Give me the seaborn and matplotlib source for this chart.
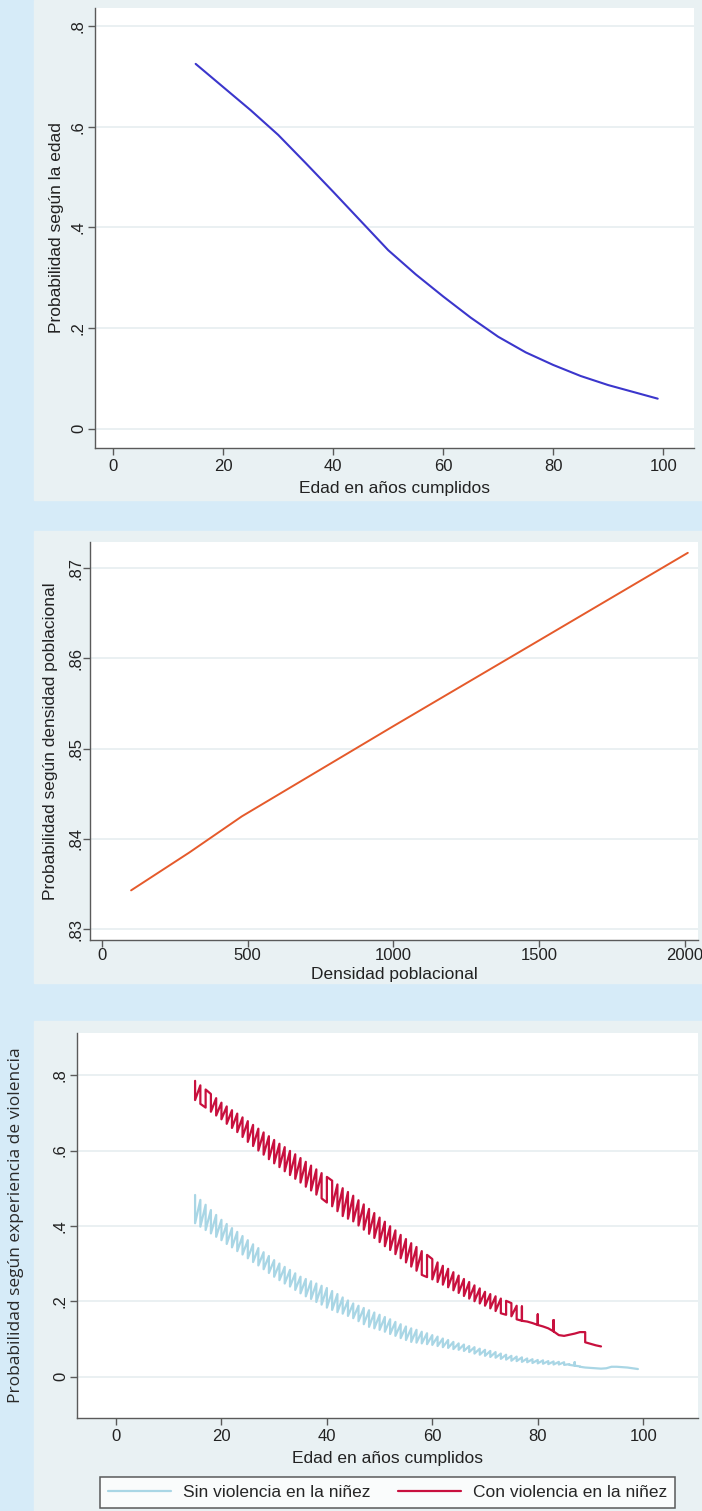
import numpy as np
import pandas as pd
import seaborn as sns
import matplotlib.pyplot as plt
from matplotlib.patches import Rectangle

# --- panel 1: probabilidad segun la edad ---
edad = [15, 20, 25, 30, 35, 40, 45, 50, 55, 60, 65, 70, 75, 80, 85, 90, 95, 99]
prob_edad = [0.725, 0.679, 0.633, 0.584, 0.528, 0.471, 0.413, 0.355, 0.307,
             0.263, 0.221, 0.183, 0.152, 0.127, 0.105, 0.087, 0.072, 0.060]

# --- panel 2: probabilidad segun densidad poblacional ---
densidad = [100, 300, 480, 1000, 1500, 2010]
prob_densidad = [0.8343, 0.8385, 0.8425, 0.8525, 0.8620, 0.8717]

# --- panel 3: probabilidad segun experiencia de violencia ---
# each age has a high and a low value (two groups of observations)
edad_con = list(range(15, 93))
con_alto = [0.785, 0.773, 0.762, 0.750, 0.739, 0.727, 0.717, 0.707, 0.698, 0.688,
            0.678, 0.668, 0.658, 0.648, 0.638, 0.628, 0.618, 0.609, 0.599, 0.590,
            0.580, 0.570, 0.560, 0.550, 0.540, 0.530, 0.520, 0.510, 0.500, 0.490,
            0.480, 0.468, 0.457, 0.445, 0.434, 0.422, 0.411, 0.399, 0.388, 0.376,
            0.365, 0.354, 0.344, 0.333, 0.323, 0.312, 0.303, 0.294, 0.286, 0.277,
            0.268, 0.259, 0.251, 0.242, 0.234, 0.225, 0.219, 0.213, 0.207, 0.201,
            0.195, 0.188, 0.186, 0.146, 0.142, 0.165, 0.133, 0.128, 0.150, 0.110,
            0.108, 0.111, 0.114, 0.118, 0.118, 0.087, 0.083, 0.080]
con_bajo = [0.734, 0.724, 0.714, 0.703, 0.693, 0.683, 0.671, 0.660, 0.649, 0.636,
            0.623, 0.612, 0.600, 0.589, 0.577, 0.566, 0.556, 0.545, 0.535, 0.525,
            0.515, 0.504, 0.494, 0.483, 0.473, 0.462, 0.452, 0.439, 0.426, 0.419,
            0.412, 0.401, 0.390, 0.379, 0.368, 0.357, 0.346, 0.336, 0.325, 0.314,
            0.303, 0.292, 0.281, 0.270, 0.264, 0.258, 0.251, 0.244, 0.237, 0.229,
            0.222, 0.214, 0.207, 0.200, 0.194, 0.188, 0.181, 0.174, 0.168, 0.164,
            0.160, 0.152, 0.148, 0.146, 0.142, 0.137, 0.133, 0.128, 0.120, 0.110,
            0.108, 0.111, 0.114, 0.118, 0.091, 0.087, 0.083, 0.080]
# order of the observations inside each age: a = high first, b = low first, p = low-high-low
con_orden = ("aabaaaaaaa" "aaaaaaaaaa" "aaaaabaaaa" "aaaaaaaaaa"
             "aaaabaaaaa" "aaaaaaaaab" "aapaapaapa" "aaaaaaaa")

edad_sin = list(range(15, 100))
sin_alto = [0.482, 0.469, 0.456, 0.442, 0.429, 0.416, 0.405, 0.394, 0.384, 0.373,
            0.362, 0.351, 0.341, 0.330, 0.320, 0.309, 0.300, 0.291, 0.283, 0.274,
            0.265, 0.259, 0.253, 0.247, 0.241, 0.235, 0.227, 0.219, 0.210, 0.202,
            0.194, 0.188, 0.182, 0.176, 0.170, 0.164, 0.158, 0.152, 0.145, 0.139,
            0.133, 0.128, 0.124, 0.119, 0.115, 0.110, 0.106, 0.101, 0.097, 0.092,
            0.088, 0.085, 0.081, 0.078, 0.074, 0.071, 0.068, 0.065, 0.061, 0.058,
            0.055, 0.053, 0.051, 0.048, 0.046, 0.044, 0.043, 0.041, 0.040, 0.039,
            0.038, 0.033, 0.038, 0.027, 0.024, 0.023, 0.022, 0.021, 0.022, 0.026,
            0.026, 0.025, 0.024, 0.022, 0.020]
sin_bajo = [0.407, 0.398, 0.389, 0.380, 0.371, 0.362, 0.352, 0.343, 0.333, 0.324,
            0.314, 0.304, 0.295, 0.285, 0.275, 0.265, 0.256, 0.247, 0.239, 0.230,
            0.221, 0.213, 0.206, 0.198, 0.191, 0.183, 0.177, 0.171, 0.167, 0.161,
            0.155, 0.147, 0.139, 0.132, 0.128, 0.124, 0.119, 0.113, 0.108, 0.102,
            0.097, 0.092, 0.090, 0.088, 0.086, 0.084, 0.081, 0.078, 0.076, 0.073,
            0.071, 0.068, 0.065, 0.061, 0.058, 0.055, 0.052, 0.050, 0.047, 0.045,
            0.042, 0.041, 0.039, 0.038, 0.036, 0.035, 0.034, 0.033, 0.032, 0.032,
            0.031, 0.031, 0.029, 0.026, 0.024, 0.023, 0.022, 0.021, 0.022, 0.026,
            0.026, 0.025, 0.024, 0.022, 0.020]
sin_orden = ("aaaaaaaaaa" "aaaaaaaaaa" "aaaaaaaaaa" "aaaaaaaaaa"
             "aaaaaaaaaa" "aaaaaaaaaa" "aaaaaaaaaa" "aapaaaaaaa" "aaaaa")

W, H = 702, 1511
BG = '#d6ebf8'
REGION = '#e9f1f3'
AXCOL = '#5a5a5a'


def zigzag(ages, hi, lo, orden):
    # stata-like line through the unsorted observations within each age
    xs, ys = [], []
    for a, h, l, o in zip(ages, hi, lo, orden):
        pts = {'a': [h, l], 'b': [l, h], 'p': [l, h, l]}[o]
        xs += [a] * len(pts)
        ys += pts
    return pd.DataFrame({'x': xs, 'y': ys})


def box(l, t, r, b):
    return [l / W, 1 - b / H, (r - l) / W, (b - t) / H]


def style(ax, xt, yt, ylabs, xlab, ylab, ypad, xpad, xlab_y, ylab_x, ylab_font=None):
    ax.set_facecolor('white')
    ax.set_xticks(xt, [str(v) for v in xt])
    ax.set_yticks(yt, ylabs)
    ax.tick_params(axis='both', direction='out', length=5, width=1,
                   color=AXCOL, labelsize=12, labelcolor='#222222',
                   bottom=True, left=True)
    ax.tick_params(axis='y', labelrotation=90, pad=ypad)
    ax.tick_params(axis='x', pad=xpad)
    for lab in ax.get_yticklabels():
        lab.set_va('center')
    ax.yaxis.grid(True, color='#e6eef0', lw=1.2)
    ax.xaxis.grid(False)
    ax.set_axisbelow(True)
    for s in ['top', 'right']:
        ax.spines[s].set_visible(False)
    for s in ['left', 'bottom']:
        ax.spines[s].set_color(AXCOL)
        ax.spines[s].set_linewidth(1)
    ax.set_xlabel(xlab, fontsize=12.5, color='#222222')
    if ylab_font:
        ax.set_ylabel(ylab, fontsize=12.5, color='#2a2a2a', family=ylab_font)
    else:
        ax.set_ylabel(ylab, fontsize=12.5, color='#222222')
    ax.xaxis.set_label_coords(0.5, xlab_y)
    ax.yaxis.set_label_coords(ylab_x, 0.5)


sns.set_theme(style='white')
plt.rcParams['font.family'] = ['Liberation Sans Narrow', 'Liberation Sans', 'DejaVu Sans']

fig = plt.figure(figsize=(W / 100, H / 100), dpi=100, facecolor=BG)
for (t, b) in [(0, 500), (531, 983), (1021, 1511)]:
    fig.patches.append(Rectangle((34 / W, 1 - b / H), (W - 34) / W, (b - t) / H,
                                 transform=fig.transFigure, color=REGION, zorder=-5))

# panel 1
ax1 = fig.add_axes(box(95, 8, 694, 448))
sns.lineplot(x=edad, y=prob_edad, ax=ax1, color='#3b36cc', lw=1.5)
ax1.set_xlim(-3.3, 105.6)
ax1.set_ylim(-0.038, 0.836)
style(ax1, [0, 20, 40, 60, 80, 100], [0, .2, .4, .6, .8], ['0', '.2', '.4', '.6', '.8'],
      'Edad en años cumplidos', 'Probabilidad según la edad', 1.5, 3, -0.075, -0.052)

# panel 2
ax2 = fig.add_axes(box(90, 542, 698, 940))
sns.lineplot(x=densidad, y=prob_densidad, ax=ax2, color='#e55a2b', lw=1.4)
ax2.set_xlim(-41, 2045)
ax2.set_ylim(0.8288, 0.8729)
style(ax2, [0, 500, 1000, 1500, 2000], [.83, .84, .85, .86, .87],
      ['.83', '.84', '.85', '.86', '.87'],
      'Densidad poblacional', 'Probabilidad según densidad poblacional', 0, 1, -0.068, -0.053)

# panel 3
ax3 = fig.add_axes(box(77, 1033, 698, 1418))
sin_df = zigzag(edad_sin, sin_alto, sin_bajo, sin_orden)
con_df = zigzag(edad_con, con_alto, con_bajo, con_orden)
sns.lineplot(data=sin_df, x='x', y='y', ax=ax3, sort=False, estimator=None,
             color='#a9d6e5', lw=1.4, label='Sin violencia en la niñez')
sns.lineplot(data=con_df, x='x', y='y', ax=ax3, sort=False, estimator=None,
             color='#c8103e', lw=1.4, label='Con violencia en la niñez')
ax3.set_xlim(-7.4, 110.4)
ax3.set_ylim(-0.11, 0.912)
style(ax3, [0, 20, 40, 60, 80, 100], [0, .2, .4, .6, .8], ['0', '.2', '.4', '.6', '.8'],
      'Edad en años cumplidos', 'Probabilidad según experiencia de violencia', 1.5, 3,
      -0.087, -0.086, ylab_font=['Open Sans', 'DejaVu Sans'])

handles, labels = ax3.get_legend_handles_labels()
ax3.legend_.remove()
for h in handles:
    h.set_linewidth(1.6)
leg = fig.legend(handles, labels, loc='upper center', bbox_to_anchor=(387.5 / W, 1 - 1477 / H),
                 ncol=2, frameon=True, fancybox=False, edgecolor='#333333', facecolor='white',
                 fontsize=12.5, handlelength=3.6, columnspacing=1.6, handletextpad=0.7,
                 borderpad=0.45, borderaxespad=0)
leg.get_frame().set_linewidth(1.1)

fig.savefig('out.png', dpi=100, facecolor=BG)
